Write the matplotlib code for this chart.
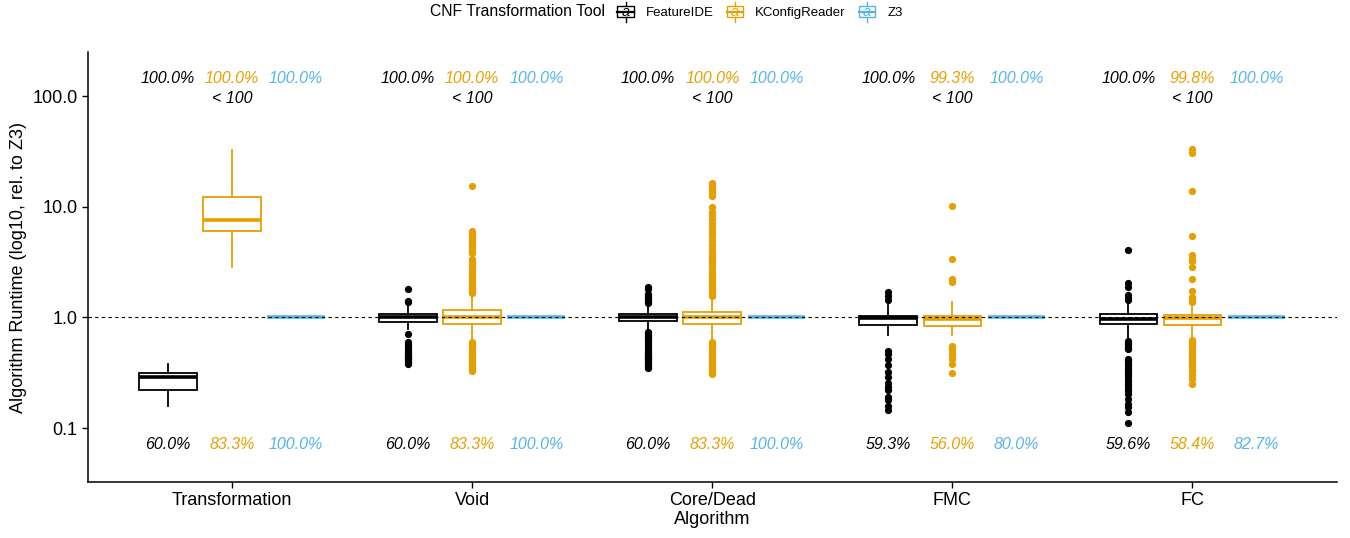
import matplotlib
matplotlib.use('Agg')
import matplotlib.pyplot as plt
from matplotlib.legend_handler import HandlerBase
from matplotlib.patches import Rectangle
from matplotlib.lines import Line2D
from matplotlib.text import Text

plt.rcParams['font.family'] = ['Liberation Sans', 'DejaVu Sans']

# categories
algorithms = ['Transformation', 'Void', 'Core/Dead', 'FMC', 'FC']
tools = ['FeatureIDE', 'KConfigReader', 'Z3']
tool_colors = ['#000000', '#E69F00', '#56B4E9']

# FeatureIDE box stats (runtime relative to Z3)
fide_q1 = [0.22, 0.915, 0.92, 0.86, 0.865]
fide_med = [0.29, 1.0, 1.0, 0.98, 0.96]
fide_q3 = [0.315, 1.064, 1.07, 1.04, 1.064]
fide_lo = [0.16, 0.78, 0.76, 0.70, 0.67]
fide_hi = [0.382, 1.28, 1.30, 1.30, 1.33]
fide_fliers = [
    [],
    [1.82, 1.42, 1.38, 0.71, 0.60, 0.58, 0.56, 0.54, 0.52, 0.50, 0.49, 0.47,
     0.46, 0.45, 0.44, 0.43, 0.42, 0.41, 0.40, 0.39, 0.38],
    [1.87, 1.80, 1.62, 1.58, 1.54, 1.50, 1.46, 1.42, 1.38, 1.35,
     0.74, 0.72, 0.70, 0.68, 0.66, 0.64, 0.62, 0.60, 0.58, 0.56, 0.54, 0.52,
     0.50, 0.48, 0.47, 0.46, 0.45, 0.44, 0.43, 0.42, 0.41, 0.40, 0.39, 0.38,
     0.37, 0.36, 0.35],
    [1.69, 1.55, 1.44, 0.50, 0.47, 0.42, 0.37, 0.32, 0.29, 0.256, 0.236, 0.22,
     0.19, 0.18, 0.16, 0.145],
    [4.07, 2.04, 1.87, 1.58, 1.50, 1.44,
     0.608, 0.59, 0.571, 0.55, 0.535, 0.522, 0.424, 0.41, 0.396, 0.38, 0.369,
     0.35, 0.333, 0.32, 0.311, 0.295, 0.28, 0.265, 0.253, 0.24, 0.228, 0.215,
     0.205, 0.185, 0.167, 0.156, 0.140, 0.112],
]

# KConfigReader box stats
kcr_q1 = [6.08, 0.877, 0.865, 0.835, 0.85]
kcr_med = [7.6, 1.0, 1.0, 0.96, 0.99]
kcr_q3 = [12.3, 1.156, 1.116, 1.04, 1.06]
kcr_lo = [2.88, 0.62, 0.62, 0.70, 0.63]
kcr_hi = [32.8, 1.63, 1.52, 1.39, 1.28]
kcr_fliers = [
    [],
    [15.5, 6.0, 5.7, 5.5, 5.2, 5.0, 4.8, 4.6, 4.4, 4.2, 4.0, 3.8, 3.4, 3.2,
     3.0, 2.9, 2.8, 2.7, 2.6, 2.5, 2.4, 2.3, 2.2, 2.1, 2.0, 1.95, 1.9, 1.85,
     1.8, 1.75, 1.7, 1.66,
     0.60, 0.58, 0.56, 0.54, 0.52, 0.50, 0.48, 0.46, 0.45, 0.44, 0.43, 0.42,
     0.41, 0.40, 0.39, 0.38, 0.37, 0.36, 0.35, 0.34, 0.33],
    [16.5, 15.6, 14.8, 14.0, 13.2, 12.5, 9.9, 8.9, 8.4, 7.8, 7.2, 6.7, 6.2,
     5.8, 5.4, 5.0, 4.6, 4.3, 4.0, 3.8, 3.6, 3.4, 3.2, 3.0, 2.8, 2.6, 2.5,
     2.4, 2.3, 2.2, 2.1, 2.0, 1.9, 1.8, 1.75, 1.7, 1.65, 1.6, 1.55,
     0.60, 0.58, 0.56, 0.54, 0.52, 0.50, 0.48, 0.46, 0.44, 0.42, 0.40, 0.38,
     0.36, 0.35, 0.34, 0.33, 0.32, 0.31],
    [10.1, 3.37, 2.23, 2.08, 0.55, 0.52, 0.49, 0.455, 0.42, 0.38, 0.317],
    [33.0, 30.5, 13.9, 5.4, 3.67, 3.4, 3.21, 2.88, 2.23, 1.75, 1.52, 1.45, 1.37,
     0.62, 0.60, 0.58, 0.56, 0.54, 0.52, 0.50, 0.48, 0.46, 0.44, 0.42, 0.40,
     0.38, 0.36, 0.345, 0.33, 0.30, 0.28, 0.248],
]

# Z3 is the reference, always 1.0
z3_val = [1.0, 1.0, 1.0, 1.0, 1.0]

# annotations
top_fide = ['100.0%', '100.0%', '100.0%', '100.0%', '100.0%']
top_kcr = ['100.0%', '100.0%', '100.0%', '99.3%', '99.8%']
top_z3 = ['100.0%', '100.0%', '100.0%', '100.0%', '100.0%']
bottom_fide = ['60.0%', '60.0%', '60.0%', '59.3%', '59.6%']
bottom_kcr = ['83.3%', '83.3%', '83.3%', '56.0%', '58.4%']
bottom_z3 = ['100.0%', '100.0%', '100.0%', '80.0%', '82.7%']

fig = plt.figure(figsize=(13.5, 5.38), dpi=100)
ax = fig.add_axes([0.0652, 0.104, 0.9248, 0.799])
ax.set_yscale('log')

offsets = [-0.267, 0.0, 0.267]
box_w = 0.24


def make_stats(q1, med, q3, lo, hi, fl):
    out = []
    for i in range(len(algorithms)):
        out.append(dict(q1=q1[i], med=med[i], q3=q3[i], whislo=lo[i],
                        whishi=hi[i], fliers=fl[i]))
    return out


all_stats = [
    make_stats(fide_q1, fide_med, fide_q3, fide_lo, fide_hi, fide_fliers),
    make_stats(kcr_q1, kcr_med, kcr_q3, kcr_lo, kcr_hi, kcr_fliers),
    make_stats(z3_val, z3_val, z3_val, z3_val, z3_val, [[]] * 5),
]

for k in range(3):
    c = tool_colors[k]
    pos = [i + 1 + offsets[k] for i in range(len(algorithms))]
    ax.bxp(all_stats[k], positions=pos, widths=box_w, showcaps=False,
           patch_artist=True, manage_ticks=False,
           boxprops=dict(facecolor='white', edgecolor=c, linewidth=1.3),
           whiskerprops=dict(color=c, linewidth=1.3),
           medianprops=dict(color=c, linewidth=2.6, solid_capstyle='butt'),
           flierprops=dict(marker='o', markerfacecolor=c, markeredgecolor=c,
                           markersize=4.2, linestyle='none'))

ax.axhline(1.0, color='black', linestyle=(0, (3, 3)), linewidth=0.8, zorder=10)

# percentage labels
tops = [top_fide, top_kcr, top_z3]
bots = [bottom_fide, bottom_kcr, bottom_z3]
for k in range(3):
    for i in range(len(algorithms)):
        x = i + 1 + offsets[k]
        ax.text(x, 145, tops[k][i], color=tool_colors[k], style='italic',
                fontsize=11.5, ha='center', va='center')
        ax.text(x, 0.0718, bots[k][i], color=tool_colors[k], style='italic',
                fontsize=11.5, ha='center', va='center')
for i in range(len(algorithms)):
    ax.text(i + 1, 95.5, '< 100', color='black', style='italic',
            fontsize=11.5, ha='center', va='center')

ax.set_xlim(0.4, 5.6)
ax.set_ylim(0.0326, 249)
ax.set_xticks(range(1, 6))
ax.set_xticklabels(algorithms)
ax.set_yticks([0.1, 1, 10, 100])
ax.set_yticklabels(['0.1', '1.0', '10.0', '100.0'])
ax.minorticks_off()
ax.tick_params(labelsize=13, length=4, width=1, colors='black')
ax.spines['top'].set_visible(False)
ax.spines['right'].set_visible(False)
ax.spines['left'].set_linewidth(1.1)
ax.spines['bottom'].set_linewidth(1.1)
ax.set_xlabel('Algorithm', fontsize=13, labelpad=1)
ax.set_ylabel('Algorithm Runtime (log10, rel. to Z3)', fontsize=13, labelpad=4)


# legend keys look like small boxplots with an "a" in them
class BoxHandler(HandlerBase):
    def create_artists(self, legend, orig_handle, xdescent, ydescent,
                       width, height, fontsize, trans):
        c = orig_handle.get_color()
        cx = width / 2 - xdescent
        h = height
        r = Rectangle((-xdescent + 1, -ydescent + 0.1 * h), width - 2, 0.8 * h,
                      facecolor='white', edgecolor=c, linewidth=1.0,
                      transform=trans)
        w1 = Line2D([cx, cx], [-ydescent + 0.9 * h, -ydescent + 1.2 * h],
                    color=c, linewidth=1.0, transform=trans)
        w2 = Line2D([cx, cx], [-ydescent - 0.2 * h, -ydescent + 0.1 * h],
                    color=c, linewidth=1.0, transform=trans)
        m = Line2D([-xdescent + 1, width - xdescent - 1],
                   [-ydescent + 0.5 * h] * 2, color=c, linewidth=1.6,
                   transform=trans)
        t = Text(cx, -ydescent + 0.45 * h, 'a', color=c, fontsize=fontsize * 1.1,
                 style='italic', ha='center', va='center', transform=trans)
        return [r, w1, w2, m, t]


handles = [Line2D([], [], color=c) for c in tool_colors]
fig.text(430 / 1350, 0.978, 'CNF Transformation Tool', fontsize=11.3,
         ha='left', va='center')
fig.legend(handles, tools, handler_map={Line2D: BoxHandler()},
           loc='center left', bbox_to_anchor=(616 / 1350, 0.978), ncol=3,
           frameon=False, fontsize=9.5, handlelength=1.45, handleheight=1.3,
           handletextpad=0.8, columnspacing=0.9, borderpad=0, borderaxespad=0)

fig.savefig('out.png', dpi=100)
